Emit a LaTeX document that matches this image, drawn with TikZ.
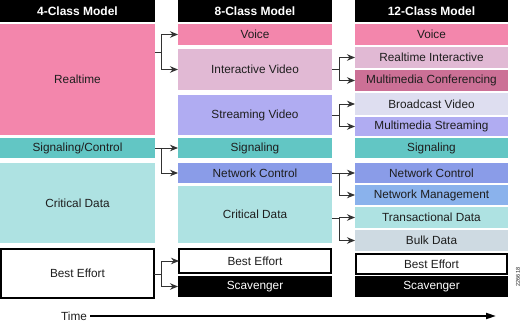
\documentclass[tikz,border=0pt]{standalone}
\usepackage{fontspec}
\setmainfont{Liberation Sans}
\usetikzlibrary{arrows.meta}
\definecolor{txt}{RGB}{30,30,30}
\definecolor{lin}{RGB}{50,50,50}
\definecolor{cRT}{RGB}{243,134,172}
\definecolor{cIV}{RGB}{225,185,212}
\definecolor{cSV}{RGB}{176,172,242}
\definecolor{cSG}{RGB}{98,198,196}
\definecolor{cCD}{RGB}{174,226,226}
\definecolor{cNC}{RGB}{138,156,232}
\definecolor{cMC}{RGB}{204,112,150}
\definecolor{cBV}{RGB}{222,222,240}
\definecolor{cNM}{RGB}{138,178,236}
\definecolor{cBK}{RGB}{206,218,226}
\newcommand{\qbx}[7]{%
 \pgfmathsetmacro\qbxw{#5-#3}\pgfmathsetmacro\qbxh{#6-#4}%
 \pgfmathsetmacro\qbxx{(#3+#5)/2}\pgfmathsetmacro\qbxy{(#4+#6)/2}%
 \node[#1, minimum width=\qbxw pt, minimum height=\qbxh pt] (#2) at (\qbxx,\qbxy) {#7};}
\begin{document}
\begin{tikzpicture}[x=1pt,y=-1pt,
 box/.style={inner sep=0pt, outer sep=0pt, anchor=center, font=\fontsize{11.8}{13}\selectfont, text=txt},
 hdr/.style={box, fill=black, text=white, font=\bfseries\fontsize{12}{14}\selectfont},
 bebox/.style={box, fill=white, draw=black, line width=2pt},
 scbox/.style={box, fill=black, text=white},
 ln/.style={draw=lin, line width=0.9pt},
 arr/.style={ln, -{Stealth[length=8pt,width=6.5pt]}}]
\useasboundingbox (0,0) rectangle (523,323);
% headers
\qbx{hdr}{hA}{0}{0}{155}{22}{4-Class Model}
\qbx{hdr}{hB}{178}{0}{332}{22}{8-Class Model}
\qbx{hdr}{hC}{355}{0}{508}{22}{12-Class Model}
% column A
\qbx{box,fill=cRT}{A-rt}{0}{24}{155}{135}{Realtime}
\qbx{box,fill=cSG}{A-sg}{0}{138}{155}{158}{Signaling/Control}
\qbx{box,fill=cCD}{A-cd}{0}{163}{155}{243}{Critical Data}
\qbx{bebox}{A-be}{1}{249}{154}{298}{Best Effort}
% column B
\qbx{box,fill=cRT}{B-vo}{178}{24}{332}{45}{Voice}
\qbx{box,fill=cIV}{B-iv}{178}{49}{332}{90}{Interactive Video}
\qbx{box,fill=cSV}{B-sv}{178}{95}{332}{135}{Streaming Video}
\qbx{box,fill=cSG}{B-sg}{178}{138}{332}{158}{Signaling}
\qbx{box,fill=cNC}{B-nc}{178}{163}{332}{183}{Network Control}
\qbx{box,fill=cCD}{B-cd}{178}{186}{332}{243}{Critical Data}
\qbx{bebox}{B-be}{179}{249}{331}{273}{Best Effort}
\qbx{scbox}{B-sc}{178}{276}{332}{297}{Scavenger}
% column C
\qbx{box,fill=cRT}{C-vo}{355}{24}{508}{45}{Voice}
\qbx{box,fill=cIV}{C-ri}{355}{47}{508}{68}{Realtime Interactive}
\qbx{box,fill=cMC}{C-mc}{355}{70}{508}{91}{Multimedia Conferencing}
\qbx{box,fill=cBV}{C-bv}{355}{93}{508}{115}{Broadcast Video}
\qbx{box,fill=cSV}{C-ms}{355}{117}{508}{136}{Multimedia Streaming}
\qbx{box,fill=cSG}{C-sg}{355}{138}{508}{158}{Signaling}
\qbx{box,fill=cNC}{C-nc}{355}{163}{508}{183}{Network Control}
\qbx{box,fill=cNM}{C-nm}{355}{185}{508}{205}{Network Management}
\qbx{box,fill=cCD}{C-td}{355}{207}{508}{228}{Transactional Data}
\qbx{box,fill=cBK}{C-bk}{355}{230}{508}{251}{Bulk Data}
\qbx{bebox}{C-be}{356}{254}{507}{274}{Best Effort}
\qbx{scbox}{C-sc}{355}{276}{508}{297}{Scavenger}
% junctions A -> B
\coordinate (j1) at (161,52);
\coordinate (j2) at (161,148);
\coordinate (j3) at (161,274);
\draw[ln] (A-rt.east |- j1) -- (j1);
\draw[arr] (j1) |- (B-vo.west);
\draw[arr] (j1) |- (B-iv.west);
\draw[ln] (A-sg.east |- j2) -- (j2);
\draw[arr] (j2) |- (B-sg.west);
\draw[arr] (j2) |- (B-nc.west);
\draw[ln] (A-be.east |- j3) -- (j3);
\draw[arr] (j3) |- (B-be.west);
\draw[arr] (j3) |- (B-sc.west);
% junctions B -> C
\coordinate (k1) at (339,69);
\coordinate (k2) at (339,115);
\coordinate (k3) at (339,173);
\coordinate (k4) at (339,218);
\draw[ln] (B-iv.east |- k1) -- (k1);
\draw[arr] (k1) |- (C-ri.west);
\draw[arr] (k1) |- (C-mc.west);
\draw[ln] (B-sv.east |- k2) -- (k2);
\draw[arr] (k2) |- (C-bv.west);
\draw[arr] (k2) |- (C-ms.west);
\draw[ln] (B-nc.east |- k3) -- (k3);
\draw[arr] (k3) |- (C-nc.west);
\draw[arr] (k3) |- (C-nm.west);
\draw[ln] (B-cd.east |- k4) -- (k4);
\draw[arr] (k4) |- (C-td.west);
\draw[arr] (k4) |- (C-bk.west);
% time axis
\node[box, anchor=east] (time) at (87,316) {Time};
\coordinate (tend) at (496,316);
\draw[black, line width=1.8pt, shorten <=3pt, -{Triangle[length=10pt,width=6pt]}] (time.east) -- (tend);
% figure number
\node[box, rotate=90, font=\fontsize{5.5}{6}\selectfont] (code) at (518,277) {226618};
\end{tikzpicture}
\end{document}
